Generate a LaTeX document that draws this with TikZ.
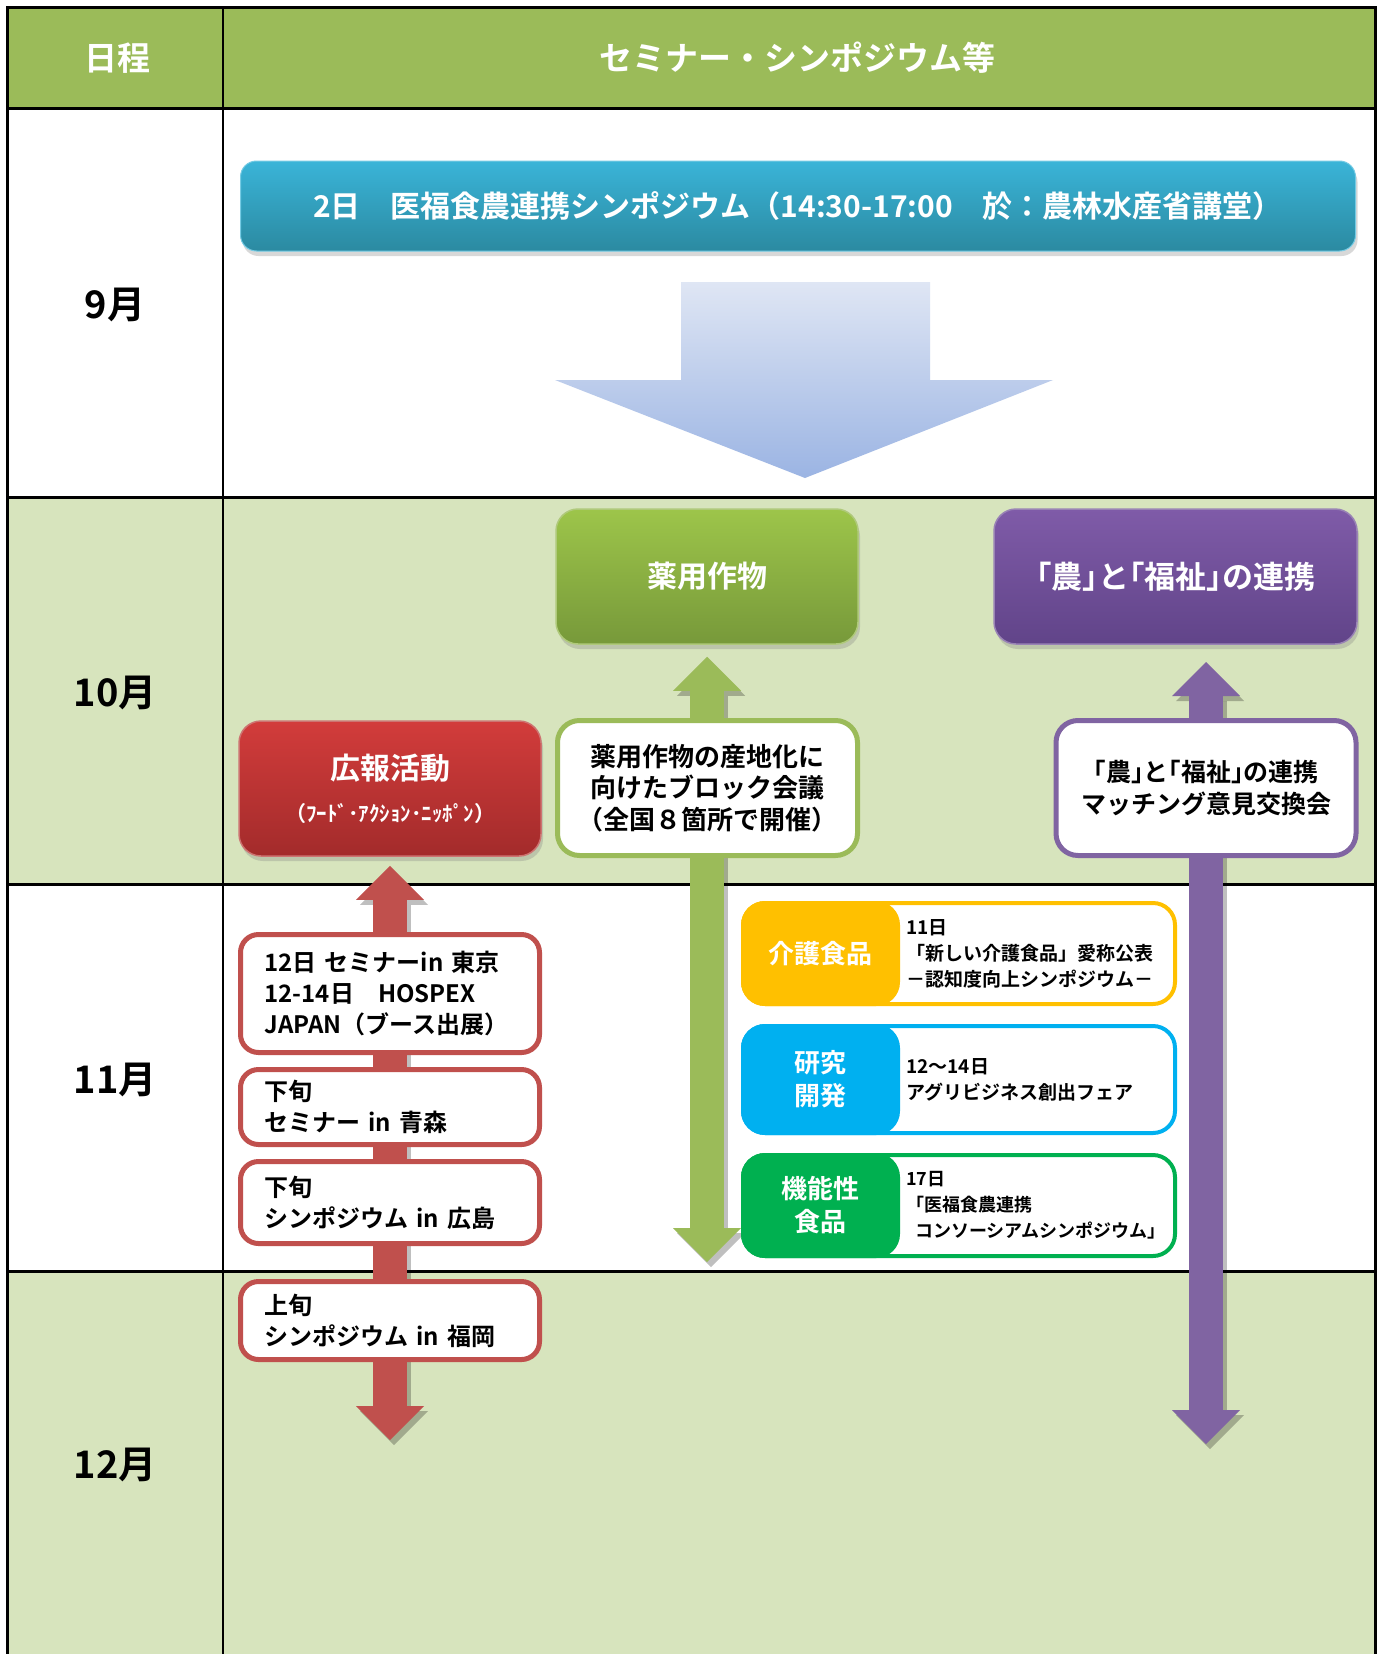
\documentclass[tikz,border=0pt]{standalone}
\usepackage{fontspec}
\setmainfont{Noto Sans CJK JP}[BoldFont=* Bold]
\usetikzlibrary{arrows.meta,shadows}

\definecolor{hdrgreen}{HTML}{9BBB59}
\definecolor{rowgreen}{HTML}{D7E4BD}
\definecolor{barTop}{HTML}{3AB4D8}
\definecolor{barBot}{HTML}{2B8AA1}
\definecolor{bigTop}{HTML}{DFE6F4}
\definecolor{bigBot}{HTML}{9BB4E3}
\definecolor{agreen}{HTML}{9BBB59}
\definecolor{apurple}{HTML}{8064A2}
\definecolor{ared}{HTML}{C0504D}
\definecolor{yakuTop}{HTML}{9DC54A}
\definecolor{yakuBot}{HTML}{77993A}
\definecolor{nofuTop}{HTML}{7F5BA8}
\definecolor{nofuBot}{HTML}{614489}
\definecolor{pubTop}{HTML}{D23C3B}
\definecolor{pubBot}{HTML}{A32B2B}
\definecolor{kaigo}{HTML}{FFC000}
\definecolor{kenkyu}{HTML}{00B0F0}
\definecolor{kinou}{HTML}{00B050}

\begin{document}
\begin{tikzpicture}[x=1pt, y=-1pt,
    gridline/.style={line width=3pt},
    month/.style={font=\fontsize{38}{42}\selectfont\bfseries},
    hdr/.style={text=white, font=\fontsize{33}{36}\selectfont\bfseries},
    boxshadow/.style={drop shadow={shadow xshift=2pt, shadow yshift=-5pt, opacity=0.3}},
    topbox/.style={boxshadow, rounded corners=22pt, line width=1.5pt, minimum height=135pt, text=white, align=center, font=\fontsize{30}{36}\selectfont\bfseries},
    outbox/.style={rounded corners=22pt, fill=white, line width=5pt, minimum width=300pt, minimum height=135pt, align=center, font=\fontsize{26}{31.5}\selectfont\bfseries},
    evbox/.style={rounded corners=18pt, fill=white, draw=ared, line width=5pt, minimum width=299pt, text width=251pt, inner xsep=24pt, inner ysep=0pt, align=left, font=\fontsize{24}{31}\selectfont\bfseries},
    catbox/.style={rounded corners=22pt, fill=white, line width=4pt, minimum width=432pt},
    cattag/.style={rounded corners=22pt, line width=4pt, minimum width=155pt, anchor=west, text=white, align=center, font=\fontsize{26}{33}\selectfont\bfseries},
    cattext/.style={anchor=west, align=left, inner sep=0pt, font=\fontsize{19}{26}\selectfont\bfseries},
    vbar/.style={line width=34pt, {Triangle[length=34pt,width=68pt,line width=0pt]}-{Triangle[length=34pt,width=68pt,line width=0pt]}},
    barshadow/.style={draw=black, opacity=0.25, transform canvas={shift={(4pt,-5pt)}}}
  ]
  \useasboundingbox (0,0) rectangle (1380,1654);

  % table
  \fill[white] (7,8) rectangle (1375,1654);
  \fill[hdrgreen] (7,8) rectangle (1375,108);
  \fill[rowgreen] (7,497) rectangle (1375,884);
  \fill[rowgreen] (7,1271) rectangle (1375,1654);
  \draw[gridline] (7,1654) -- (7,8) -- (1375,8) -- (1375,1654);
  \foreach \y in {108,497,884,1271}
    \draw[gridline] (7,\y) -- (1375,\y);
  \draw[line width=2.5pt] (223,8) -- (223,1654);

  \node[hdr] (hdrDate) at (117,58) {日程};
  \node[hdr] (hdrEvent) at (797,58) {セミナー・シンポジウム等};
  \node[month] (m9) at (115,305) {9月};
  \node[month] (m10) at (115,693) {10月};
  \node[month] (m11) at (115,1080) {11月};
  \node[month] (m12) at (115,1465) {12月};

  % September
  \node[boxshadow, rounded corners=16pt, top color=barTop, bottom color=barBot, draw=barTop!70!white, line width=1pt,
        minimum width=1115pt, minimum height=90pt, text=white, font=\fontsize{30}{34}\selectfont\bfseries]
        (kickoff) at (798,206) {2日　医福食農連携シンポジウム（14:30-17:00　於：農林水産省講堂）};
  \shade[top color=bigTop, bottom color=bigBot] (681,282) -- (930,282) -- (930,380) -- (1053,380)
        -- (805,478) -- (555,380) -- (681,380) -- cycle;

  % themes
  \node[topbox, top color=yakuTop, bottom color=yakuBot, draw=agreen!80!white, minimum width=302pt] (yaku) at (707,576.5) {薬用作物};
  \node[topbox, top color=nofuTop, bottom color=nofuBot, draw=apurple!80!white, minimum width=363pt,
        font=\fontsize{31}{36}\selectfont\bfseries] (nofu) at (1175.5,576.5) {｢農｣と｢福祉｣の連携};
  \node[topbox, top color=pubTop, bottom color=pubBot, draw=ared!80!white, minimum width=302pt] (kouhou) at (390,788.5)
        {\fontsize{30}{36}\selectfont 広報活動\\[6pt]\fontsize{21}{24}\selectfont（ﾌｰﾄﾞ･ｱｸｼｮﾝ･ﾆｯﾎﾟﾝ）};

  % time lines
  \coordinate (gEnd) at (707,1262);
  \coordinate (rEnd) at (390,1440);
  \coordinate (pTop) at (1206,662);
  \coordinate (pEnd) at (1206,1444);
  \draw[vbar, barshadow] ([yshift=-12pt]yaku.south) -- (gEnd);
  \draw[vbar, draw=agreen] ([yshift=-12pt]yaku.south) -- (gEnd);
  \draw[vbar, barshadow] ([yshift=-9pt]kouhou.south) -- (rEnd);
  \draw[vbar, draw=ared] ([yshift=-9pt]kouhou.south) -- (rEnd);
  \draw[vbar, barshadow] (pTop) -- (pEnd);
  \draw[vbar, draw=apurple] (pTop) -- (pEnd);

  \node[outbox, draw=agreen] (block) at (707.5,788) {薬用作物の産地化に\\向けたブロック会議\\（全国８箇所で開催）};
  \node[outbox, draw=apurple, font=\fontsize{25}{32}\selectfont\bfseries] (match) at (1206,788) {｢農｣と｢福祉｣の連携\\マッチング意見交換会};

  % publicity events
  \node[evbox, minimum height=118pt] (tokyo) at (390,993.5) {12日 セミナーin 東京\\12-14日　HOSPEX\\JAPAN（ブース出展）};
  \node[evbox, minimum height=75pt] (aomori) at (390,1107) {下旬\\セミナー in 青森};
  \node[evbox, minimum height=82pt] (hiroshima) at (390,1202.5) {下旬\\シンポジウム in 広島};
  \node[evbox, minimum height=78pt] (fukuoka) at (390,1320.5) {上旬\\シンポジウム in 福岡};

  % categories
  \node[catbox, draw=kaigo, minimum height=101pt] (kaigo) at (959,953.5) {};
  \node[cattag, fill=kaigo, draw=kaigo, minimum height=101pt] (kaigoTag) at (kaigo.west) {介護食品};
  \node[cattext] (kaigoText) at ([xshift=6pt]kaigoTag.east) {11日\\「新しい介護食品」愛称公表\\－認知度向上シンポジウム－};

  \node[catbox, draw=kenkyu, minimum height=107pt] (kenkyu) at (959,1079.5) {};
  \node[cattag, fill=kenkyu, draw=kenkyu, minimum height=107pt] (kenkyuTag) at (kenkyu.west) {研究\\開発};
  \node[cattext] (kenkyuText) at ([xshift=6pt]kenkyuTag.east) {12～14日\\アグリビジネス創出フェア};

  \node[catbox, draw=kinou, minimum height=101pt] (kinou) at (959,1205.5) {};
  \node[cattag, fill=kinou, draw=kinou, minimum height=101pt] (kinouTag) at (kinou.west) {機能性\\食品};
  \node[cattext, font=\fontsize{18}{26}\selectfont\bfseries] (kinouText) at ([xshift=6pt]kinouTag.east)
        {17日\\「医福食農連携\\\hspace*{0.5em}コンソーシアムシンポジウム」};
\end{tikzpicture}
\end{document}
